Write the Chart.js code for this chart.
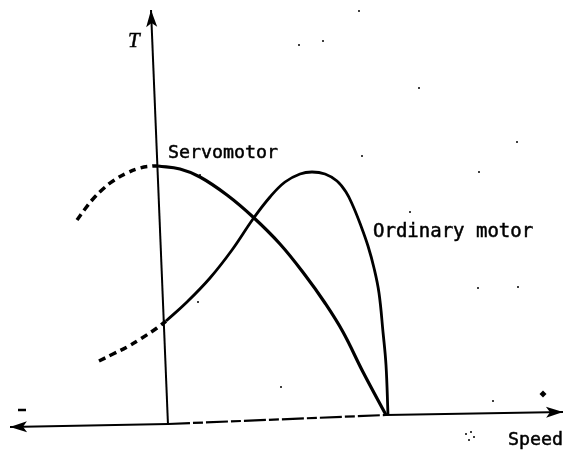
<!DOCTYPE html>
<html><head><meta charset="utf-8">
<script src="https://cdn.jsdelivr.net/npm/chart.js@4.4.1/dist/chart.umd.min.js"></script>
<style>html,body{margin:0;padding:0;background:#fff}canvas{display:block}</style>
</head><body><canvas id="c" width="564" height="451"></canvas>
<script>
// Speed (horizontal) and torque T (vertical) in arbitrary units
const servoDashSpeed   = [-45.5, -41.5, -37.5, -32.5, -27.5, -20.5, -14, -7.5, -5];
const servoDashTorque  = [81.6, 86, 90, 94, 97.2, 100.4, 102.4, 103.2, 103.2];
const servoSpeed       = [-5, 6, 16, 29.5, 42.5, 56, 68.5, 78.5, 87.5, 97.5, 109];
const servoTorque      = [103.2, 102, 98.8, 91.6, 82.8, 72, 59.6, 48.4, 36.8, 20.8, 3.6];
const ordDashSpeed     = [-34.5, -27.5, -20.5, -13, -5.5, -1];
const ordDashTorque    = [25.2, 28, 30.8, 34.4, 38.4, 41.2];
const ordSpeed         = [-1, 9.5, 21, 32, 42.5, 51, 58.5, 66, 72, 78.5, 84.5, 89, 92.5, 96.5, 100, 103, 105.5, 107.5, 109, 110];
const ordTorque        = [41.2, 48.8, 58.4, 69.6, 82, 90.8, 96.8, 100, 100.8, 100, 97.2, 92.8, 87.2, 79.2, 71.2, 62.4, 52.4, 36.8, 23.6, 3.6];
// axes (drawn as lines, slightly skewed as in the scan)
const tAxisSpeed       = [0, -8.5];
const tAxisTorque      = [-0.4, 165.6];
const speedAxisLeftX   = [0, -79];
const speedAxisLeftY   = [0, -1.2];
const speedAxisMidX    = [0, 109];
const speedAxisMidY    = [0, 3.6];
const speedAxisRightX  = [109, 197.5];
const speedAxisRightY  = [3.6, 4.8];
// scan specks
const speckX = [95.5, 77.5, 65.5, 125.5, 174.5, 97, 155.5, 121, 155, 175, 15, 56.5, 162.5, 16, 149, 151.5, 153, 150.5];
const speckY = [165.2, 153.2, 151.6, 134.4, 112.8, 107.2, 100.8, 84.8, 54.4, 54.8, 48.8, 14.8, 9.2, 99.6, -4, -3.2, -5.2, -6.4];
const diamondX = [187.5];
const diamondY = [12];
const dashMarkX = [-73];
const dashMarkY = [5.6];
// labels
const labelText = ['Servomotor', 'Ordinary motor', 'Speed', 'T'];
const labelX    = [0, 102.5, 170, -20];
const labelY    = [108.4, 76.8, -6.4, 153.2];

function pts(xs, ys) { return xs.map((x, i) => ({x: x, y: ys[i]})); }

const arrowPlugin = {
  id: 'arrows',
  afterDatasetsDraw(chart) {
    const ctx = chart.ctx;
    chart.data.datasets.forEach((ds, i) => {
      if (!ds.arrowEnd) return;
      const d = chart.getDatasetMeta(i).data;
      const a = d[d.length - 2], b = d[d.length - 1];
      const ang = Math.atan2(b.y - a.y, b.x - a.x);
      const L = 17, W = 5.5;
      ctx.save();
      ctx.translate(b.x, b.y);
      ctx.rotate(ang);
      ctx.beginPath();
      ctx.moveTo(0, 0);
      ctx.lineTo(-L, -W);
      ctx.lineTo(-L + 4, 0);
      ctx.lineTo(-L, W);
      ctx.closePath();
      ctx.fillStyle = '#000';
      ctx.fill();
      ctx.restore();
    });
  }
};

const labelPlugin = {
  id: 'labels',
  afterDatasetsDraw(chart) {
    const ctx = chart.ctx, xs = chart.scales.x, ys = chart.scales.y;
    ctx.save();
    ctx.fillStyle = '#000';
    ctx.strokeStyle = '#000';
    ctx.lineWidth = 0.5;
    ctx.textBaseline = 'middle';
    ctx.textAlign = 'left';
    labelText.forEach((t, i) => {
      if (t === 'T') ctx.font = 'italic 21px "Liberation Serif", serif';
      else if (t === 'Ordinary motor') ctx.font = '19px "DejaVu Sans Mono", monospace';
      else ctx.font = '18.3px "DejaVu Sans Mono", monospace';
      const px = xs.getPixelForValue(labelX[i]), py = ys.getPixelForValue(labelY[i]);
      ctx.fillText(t, px, py);
      ctx.strokeText(t, px, py);
    });
    ctx.restore();
  }
};

const base = {showLine: true, pointRadius: 0, borderColor: '#000', fill: false};

new Chart(document.getElementById('c'), {
  type: 'scatter',
  data: {
    datasets: [
      Object.assign({}, base, {label: 'Servomotor (dashed)', data: pts(servoDashSpeed, servoDashTorque), borderWidth: 3.5, borderDash: [7, 5], tension: 0.4}),
      Object.assign({}, base, {label: 'Servomotor', data: pts(servoSpeed, servoTorque), borderWidth: 3.2, tension: 0.4}),
      Object.assign({}, base, {label: 'Ordinary motor (dashed)', data: pts(ordDashSpeed, ordDashTorque), borderWidth: 3.5, borderDash: [7, 5], tension: 0.4}),
      Object.assign({}, base, {label: 'Ordinary motor', data: pts(ordSpeed, ordTorque), borderWidth: 2.8, tension: 0.4}),
      Object.assign({}, base, {label: 'T axis', data: pts(tAxisSpeed, tAxisTorque), borderWidth: 2, tension: 0, arrowEnd: true}),
      Object.assign({}, base, {label: 'Speed axis left', data: pts(speedAxisLeftX, speedAxisLeftY), borderWidth: 2.2, tension: 0, arrowEnd: true}),
      Object.assign({}, base, {label: 'Speed axis mid', data: pts(speedAxisMidX, speedAxisMidY), borderWidth: 2.2, borderDash: [22, 3, 10, 3], tension: 0}),
      Object.assign({}, base, {label: 'Speed axis right', data: pts(speedAxisRightX, speedAxisRightY), borderWidth: 2.2, tension: 0, arrowEnd: true}),
      {label: 'specks', data: pts(speckX, speckY), showLine: false, pointRadius: 1, backgroundColor: '#000', borderWidth: 0},
      {label: 'diamond', data: pts(diamondX, diamondY), showLine: false, pointRadius: 3.5, pointStyle: 'rectRot', backgroundColor: '#000', borderWidth: 0},
      {label: 'mark', data: pts(dashMarkX, dashMarkY), showLine: false, pointRadius: 4, pointStyle: 'line', borderColor: '#000', borderWidth: 2.5}
    ]
  },
  options: {
    responsive: false,
    animation: false,
    layout: {padding: 0, autoPadding: false},
    plugins: {legend: {display: false}, tooltip: {enabled: false}},
    scales: {
      x: {type: 'linear', display: false, min: -84, max: 198},
      y: {type: 'linear', display: false, min: -10.8, max: 169.6}
    }
  },
  plugins: [arrowPlugin, labelPlugin]
});
</script>
</body></html>
